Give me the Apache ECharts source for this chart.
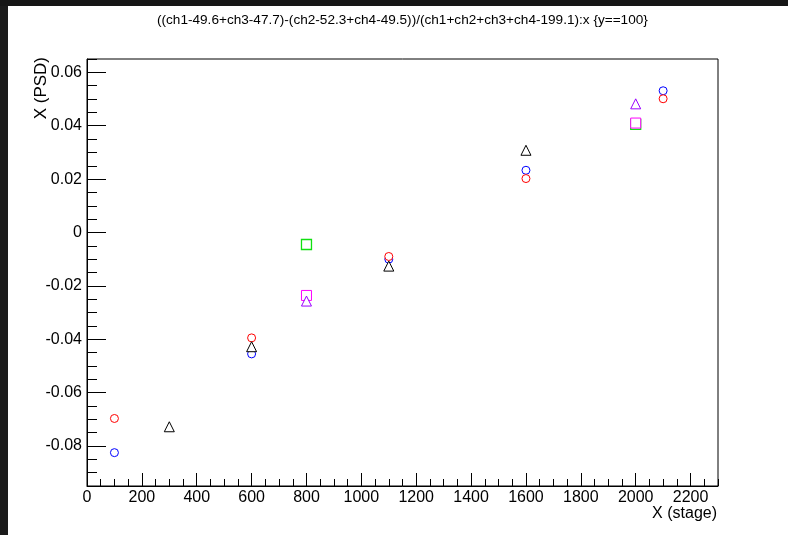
<!DOCTYPE html>
<html>
<head>
  <meta charset="utf-8">
  <title>PSD vs stage</title>
  <script src="https://cdn.jsdelivr.net/npm/echarts@6.0.0/dist/echarts.min.js"></script>
  <style>
    html, body { margin: 0; padding: 0; background: #fff; }
    #main { width: 788px; height: 535px; }
  </style>
</head>
<body>
<div id="main"></div>
<script>
// points, [stage, psd]
var redCircles = [[100, -0.0697], [600, -0.0395], [1100, -0.0090], [1600, 0.0202], [2100, 0.0501]];
var blueCircles = [[100, -0.0825], [600, -0.0455], [1100, -0.0100], [1600, 0.0233], [2100, 0.0531]];
var blackTriangles = [[300, -0.0728], [600, -0.0428], [1100, -0.0126], [1600, 0.0308]];
var greenSquares = [[800, -0.0045], [2000, 0.0405]];
var magentaSquares = [[800, -0.0236], [2000, 0.0410]];
var violetTriangles = [[800, -0.0257], [2000, 0.0482]];

var xTicks = [0, 200, 400, 600, 800, 1000, 1200, 1400, 1600, 1800, 2000, 2200];
var yTicks = [-0.08, -0.06, -0.04, -0.02, 0, 0.02, 0.04, 0.06];
var yTickLabels = ["-0.08", "-0.06", "-0.04", "-0.02", "0", "0.02", "0.04", "0.06"];

var titleText = "((ch1-49.6+ch3-47.7)-(ch2-52.3+ch4-49.5))/(ch1+ch2+ch3+ch4-199.1):x {y==100}";

// minor ticks every 50 / 0.005
var xMinor = [];
for (var i = 0; i <= 46; i++) xMinor.push(i * 50);
var yMinor = [];
for (var j = -19; j <= 13; j++) yMinor.push(Math.round(j * 5) / 1000);

var font = "Liberation Sans, Arial, sans-serif";

function pts(name, data, symbol, size, color, width) {
    return {
        name: name,
        type: "scatter",
        data: data,
        symbol: symbol,
        symbolSize: size,
        itemStyle: { color: "#fff", borderColor: color, borderWidth: width || 1, opacity: 1 },
        emphasis: { disabled: true },
        animation: false
    };
}

var myChart = echarts.init(document.getElementById("main"));
var option = {
    backgroundColor: "#fff",
    animation: false,
    title: {
        text: titleText,
        left: 152,
        top: 8,
        textStyle: { fontSize: 13.6, fontWeight: "normal", color: "#000", fontFamily: font }
    },
    grid: {
        left: 87, right: 70, top: 59, bottom: 49,
        show: true, borderColor: "#000", borderWidth: 1, backgroundColor: "#fff"
    },
    xAxis: [{
        type: "value", min: 0, max: 2300, position: "bottom",
        axisLine: { show: true, onZero: false, lineStyle: { color: "#000" } },
        axisTick: { show: true, inside: true, length: 13, customValues: xTicks, lineStyle: { color: "#000" } },
        axisLabel: {
            customValues: xTicks, fontSize: 16, color: "#000", margin: 4, fontFamily: font,
            formatter: function(v) { return String(v); }
        },
        splitLine: { show: false }
    }, {
        type: "value", min: 0, max: 2300, position: "bottom",
        axisLine: { show: false, onZero: false },
        axisTick: { show: true, inside: true, length: 7, customValues: xMinor, lineStyle: { color: "#000" } },
        axisLabel: { show: false },
        splitLine: { show: false }
    }],
    yAxis: [{
        type: "value", min: -0.095, max: 0.065, position: "left",
        axisLine: { show: true, onZero: false, lineStyle: { color: "#000" } },
        axisTick: { show: true, inside: true, length: 19, customValues: yTicks, lineStyle: { color: "#000" } },
        axisLabel: {
            customValues: yTicks, fontSize: 16, color: "#000", margin: 5, fontFamily: font,
            formatter: function(v) {
                for (var k = 0; k < yTicks.length; k++) {
                    if (Math.abs(yTicks[k] - v) < 1e-9) return yTickLabels[k];
                }
                return "";
            }
        },
        splitLine: { show: false }
    }, {
        type: "value", min: -0.095, max: 0.065, position: "left",
        axisLine: { show: false, onZero: false },
        axisTick: { show: true, inside: true, length: 10, customValues: yMinor, lineStyle: { color: "#000" } },
        axisLabel: { show: false },
        splitLine: { show: false }
    }],
    graphic: [
        { type: "rect", left: 0, top: 0, shape: { width: 8, height: 535 }, style: { fill: "#1b1b1b" }, z: 100 },
        { type: "rect", left: 0, top: 0, shape: { width: 788, height: 6 }, style: { fill: "#161616" }, z: 100 },
        {
            type: "text", x: 717, y: 514,
            style: { text: "X (stage)", align: "right", verticalAlign: "middle", fontSize: 16, fontFamily: font, fill: "#000" }
        },
        {
            type: "text", x: 41, y: 57, rotation: Math.PI / 2,
            style: { text: "X (PSD)", align: "right", verticalAlign: "middle", fontSize: 17, fontFamily: font, fill: "#000" }
        }
    ],
    series: [
        pts("blue", blueCircles, "circle", 8, "#0000ff"),
        pts("red", redCircles, "circle", 8, "#ff0000"),
        pts("black", blackTriangles, "triangle", 10, "#000000"),
        pts("green", greenSquares, "rect", 10, "#10e010", 1.3),
        pts("magenta", magentaSquares, "rect", 10, "#ff00ff"),
        pts("violet", violetTriangles, "triangle", 10, "#9900ff")
    ]
};
myChart.setOption(option);
</script>
</body>
</html>
